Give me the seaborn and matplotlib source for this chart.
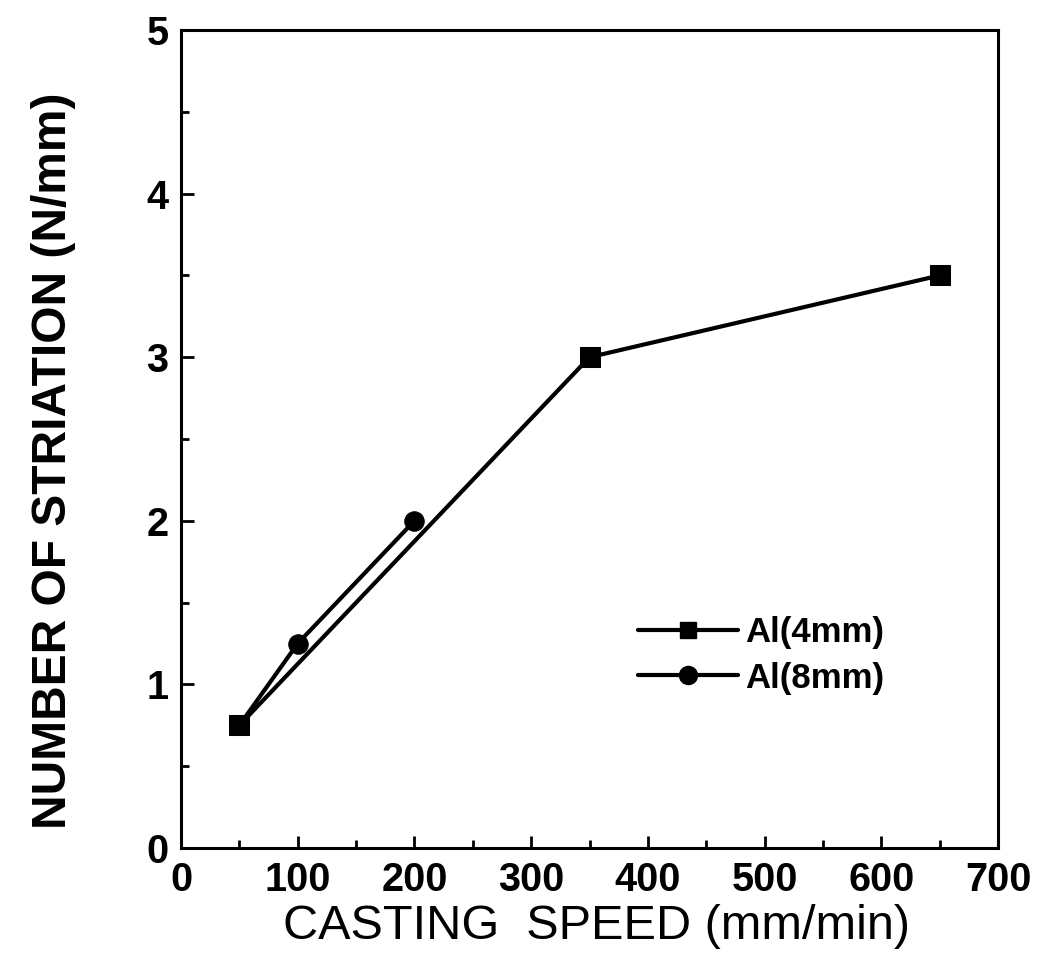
import matplotlib
matplotlib.use("Agg")
import matplotlib.pyplot as plt
import seaborn as sns
import pandas as pd
from matplotlib.ticker import MultipleLocator
from matplotlib.lines import Line2D

# Data
speed_4mm = [50, 350, 650]
striation_4mm = [0.75, 3.0, 3.5]
speed_8mm = [50, 100, 200]
striation_8mm = [0.75, 1.25, 2.0]
series_labels = ["Al(4mm)", "Al(8mm)"]
x_ticks = [0, 100, 200, 300, 400, 500, 600, 700]
y_ticks = [0, 1, 2, 3, 4, 5]

df = pd.concat([
    pd.DataFrame({"speed": speed_4mm, "striation": striation_4mm, "series": series_labels[0]}),
    pd.DataFrame({"speed": speed_8mm, "striation": striation_8mm, "series": series_labels[1]}),
], ignore_index=True)

sns.set_style("ticks")
plt.rcParams["font.family"] = ["Liberation Sans", "DejaVu Sans"]
plt.rcParams["text.color"] = "black"
plt.rcParams["axes.labelcolor"] = "black"
plt.rcParams["xtick.color"] = "black"
plt.rcParams["ytick.color"] = "black"
plt.rcParams["axes.edgecolor"] = "black"

fig = plt.figure(figsize=(10.51, 9.63), dpi=100)
ax = fig.add_axes([0.1722, 0.1194, 0.7774, 0.8494])

sns.lineplot(data=df, x="speed", y="striation", hue="series", style="series",
             markers={"Al(4mm)": "s", "Al(8mm)": "o"}, dashes=False,
             palette={"Al(4mm)": "black", "Al(8mm)": "black"},
             linewidth=3, markersize=14, markeredgecolor="black",
             ax=ax, legend=False, sort=False)

ax.set_xlim(0, 700)
ax.set_ylim(0, 5)
ax.set_xticks(x_ticks)
ax.set_yticks(y_ticks)
ax.xaxis.set_minor_locator(MultipleLocator(50))
ax.yaxis.set_minor_locator(MultipleLocator(0.5))
ax.tick_params(axis="both", which="major", direction="in", length=9, width=2,
               labelsize=28.5, pad=9, top=False, right=False, colors="black")
ax.tick_params(axis="both", which="minor", direction="in", length=5.5, width=2,
               top=False, right=False, colors="black")
for lab in ax.get_xticklabels() + ax.get_yticklabels():
    lab.set_fontweight("bold")
for sp in ax.spines.values():
    sp.set_visible(True)
    sp.set_linewidth(2.2)
    sp.set_color("black")

ax.set_xlabel("CASTING  SPEED (mm/min)", fontsize=35, color="black")
ax.xaxis.set_label_coords(0.508, -0.069)
ax.set_ylabel("NUMBER OF STRIATION (N/mm)", fontsize=34.5, fontweight="bold", color="black")
ax.yaxis.set_label_coords(-0.128, 0.473)

handles = [
    Line2D([], [], color="black", linewidth=3, marker="s", markersize=11),
    Line2D([], [], color="black", linewidth=3, marker="o", markersize=13),
]
leg = ax.legend(handles, series_labels, loc="upper left", bbox_to_anchor=(0.542, 0.301),
                frameon=False, prop={"size": 25, "weight": "bold"},
                handlelength=2.9, handletextpad=0.2, labelspacing=0.37, borderaxespad=0)
for t in leg.get_texts():
    t.set_color("black")

fig.savefig("out.png", dpi=100)
